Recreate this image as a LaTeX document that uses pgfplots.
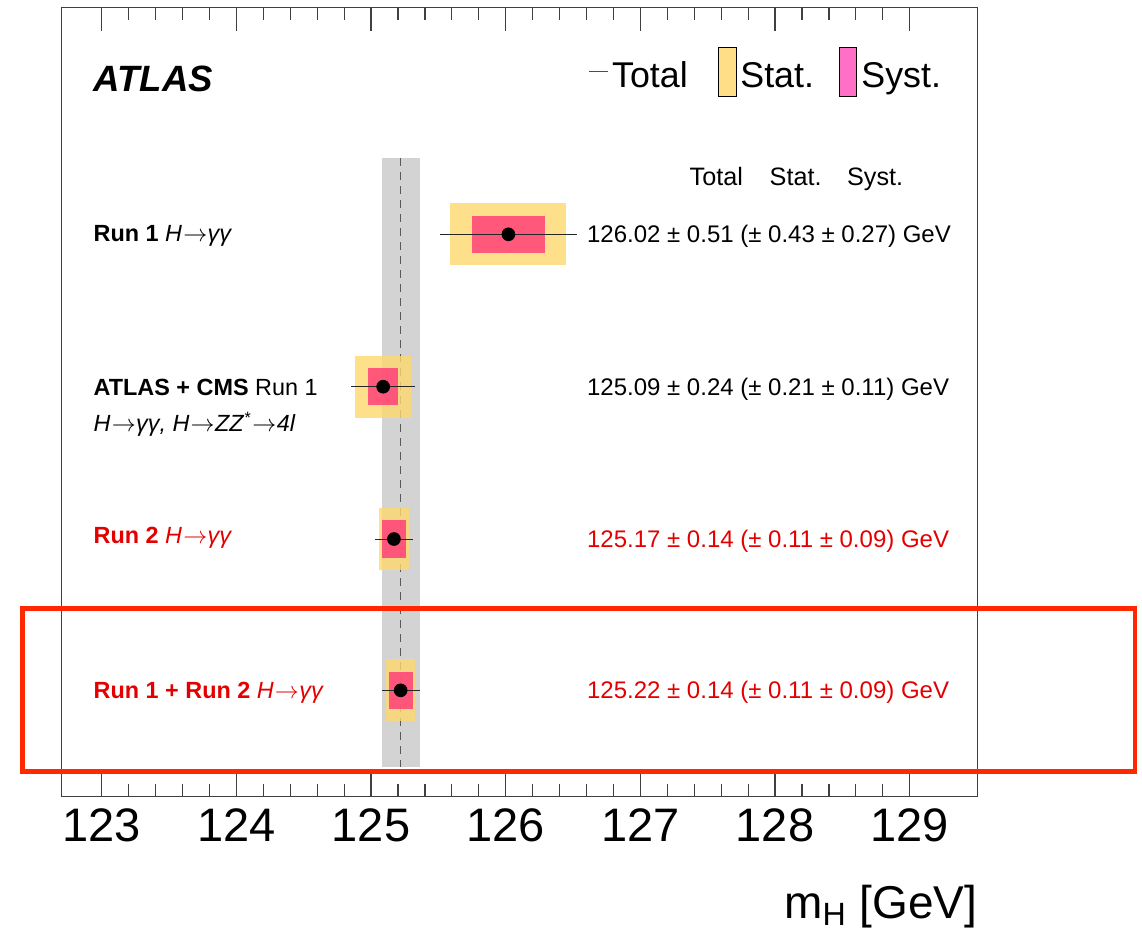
\documentclass[border=0pt]{standalone}
\usepackage{pgfplots}
\pgfplotsset{compat=1.18}
\usepackage{pgfplotstable}
\usepackage{fontspec}
\setmainfont{Liberation Sans}
\definecolor{statc}{RGB}{255,216,109}
\definecolor{systc}{RGB}{255,54,121}
\definecolor{statl}{RGB}{255,222,135}
\definecolor{systl}{RGB}{255,110,199}
\definecolor{bandc}{RGB}{211,211,211}
\definecolor{runred}{RGB}{228,0,0}
\definecolor{boxred}{RGB}{255,40,0}
\pgfplotstableread{
m y total stat syst
126.02 234.3 0.51 0.43 0.27
125.09 386.7 0.24 0.21 0.11
125.17 539.0 0.14 0.11 0.09
125.22 690.3 0.14 0.11 0.09
}\data
\newcommand{\fs}[1]{\fontsize{#1}{#1}\selectfont}
\newcommand{\ar}{\kern0.05em\ensuremath{\rightarrow}\kern0.02em}
\begin{document}
\begin{tikzpicture}
\begin{axis}[
  scale only axis, width=458pt, height=394.7pt,
  xmin=122.703, xmax=129.505, ymin=7.3, ymax=796.7, y dir=reverse,
  clip=false, ytick=\empty,
  xtick={123,124,125,126,127,128,129}, minor x tick num=4,
  xtick pos=both, xticklabel pos=lower, tick align=inside,
  major tick length=12pt, minor tick length=6.5pt,
  axis line style={black!75, line width=0.6pt},
  tick style={black!75, line width=0.6pt},
  /pgf/number format/assume math mode=true,
  /pgf/number format/fixed,
  xticklabel style={font=\fs{23.5}, inner sep=0pt, anchor=north, yshift=-5.8pt},
]
% band
\addplot[fill=bandc, draw=none, forget plot] coordinates {(125.08,158) (125.36,158) (125.36,767) (125.08,767)} -- cycle;
\addplot[black!65, line width=0.5pt, dash pattern=on 4pt off 3pt, forget plot] coordinates {(125.22,158) (125.22,767)};
% stat boxes
\addplot[only marks, mark=none, forget plot, error bars/.cd, x dir=both, x explicit, error mark=none,
  error bar style={line width=31pt, draw=statc, draw opacity=0.8}]
  table[x=m, y=y, x error=stat] {\data};
% syst boxes
\addplot[only marks, mark=none, forget plot, error bars/.cd, x dir=both, x explicit, error mark=none,
  error bar style={line width=18.7pt, draw=systc, draw opacity=0.8}]
  table[x=m, y=y, x error=syst] {\data};
% total + central values
\addplot[only marks, mark=*, mark size=3.2pt, mark options={fill=black, draw=black}, forget plot,
  error bars/.cd, x dir=both, x explicit, error mark=none,
  error bar style={line width=0.5pt, draw=black!85}]
  table[x=m, y=y, x error=total] {\data};
% texts
\node[anchor=base west, inner sep=0pt, font=\fs{18.3}\bfseries\itshape] at (axis cs:122.9376,91.7) {ATLAS};
\draw[black!70, line width=0.5pt] (axis cs:126.6185,71) -- (axis cs:126.7574,71);
\node[anchor=base west, inner sep=0pt, font=\fs{17.9}] at (axis cs:126.787,87.3) {Total};
\draw[black, line width=0.5pt, fill=statl] (axis cs:127.5786,47.3) rectangle (axis cs:127.7152,96);
\node[anchor=base west, inner sep=0pt, font=\fs{17.9}] at (axis cs:127.7397,87.3) {Stat.};
\draw[black, line width=0.5pt, fill=systl] (axis cs:128.4771,47.3) rectangle (axis cs:128.6063,96);
\node[anchor=base west, inner sep=0pt, font=\fs{17.9}] at (axis cs:128.6382,87.3) {Syst.};
\node[anchor=base west, inner sep=0pt, font=\fs{12.6}] at (axis cs:127.3633,185) {Total};
\node[anchor=base west, inner sep=0pt, font=\fs{12.6}] at (axis cs:127.9573,185) {Stat.};
\node[anchor=base west, inner sep=0pt, font=\fs{12.6}] at (axis cs:128.532,185) {Syst.};
% row labels
\node[anchor=base west, inner sep=0pt, font=\fs{11.7}] at (axis cs:122.9376,241.7) {\textbf{Run 1} \textit{H\ar γγ}};
\node[anchor=base west, inner sep=0pt, font=\fs{11.7}] at (axis cs:122.9376,395) {\textbf{ATLAS + CMS} Run 1};
\node[anchor=base west, inner sep=0pt, font=\fs{11.7}] at (axis cs:122.9376,431.7) {\textit{H\ar γγ, H\ar ZZ\textsuperscript{*}\ar 4l}};
\node[anchor=base west, inner sep=0pt, font=\fs{11.7}, text=runred] at (axis cs:122.9376,543) {\textbf{Run 2} \textit{H\ar γγ}};
\node[anchor=base west, inner sep=0pt, font=\fs{11.7}, text=runred] at (axis cs:122.9376,698.3) {\textbf{Run 1 + Run 2} \textit{H\ar γγ}};
% values
\node[anchor=base west, inner sep=0pt, font=\fs{12}] at (axis cs:126.6014,242.3) {126.02 ± 0.51 (± 0.43 ± 0.27) GeV};
\node[anchor=base west, inner sep=0pt, font=\fs{12}] at (axis cs:126.6014,395.5) {125.09 ± 0.24 (± 0.21 ± 0.11) GeV};
\node[anchor=base west, inner sep=0pt, font=\fs{12}, text=runred] at (axis cs:126.6014,547) {125.17 ± 0.14 (± 0.11 ± 0.09) GeV};
\node[anchor=base west, inner sep=0pt, font=\fs{12}, text=runred] at (axis cs:126.6014,698.5) {125.22 ± 0.14 (± 0.11 ± 0.09) GeV};
% x label
\node[anchor=base east, inner sep=0pt, font=\fs{23}] at (axis cs:129.505,918) {m\textsubscript{H} [GeV]};
% highlight box
\draw[boxred, line width=2.35pt] (axis cs:122.4119,608.3) rectangle (axis cs:130.6729,771.7);
\coordinate (BL) at (axis cs:122.2448,931);
\coordinate (TR) at (axis cs:130.7248,0);
\end{axis}
\pgfresetboundingbox
\path (BL) rectangle (TR);
\end{tikzpicture}
\end{document}
